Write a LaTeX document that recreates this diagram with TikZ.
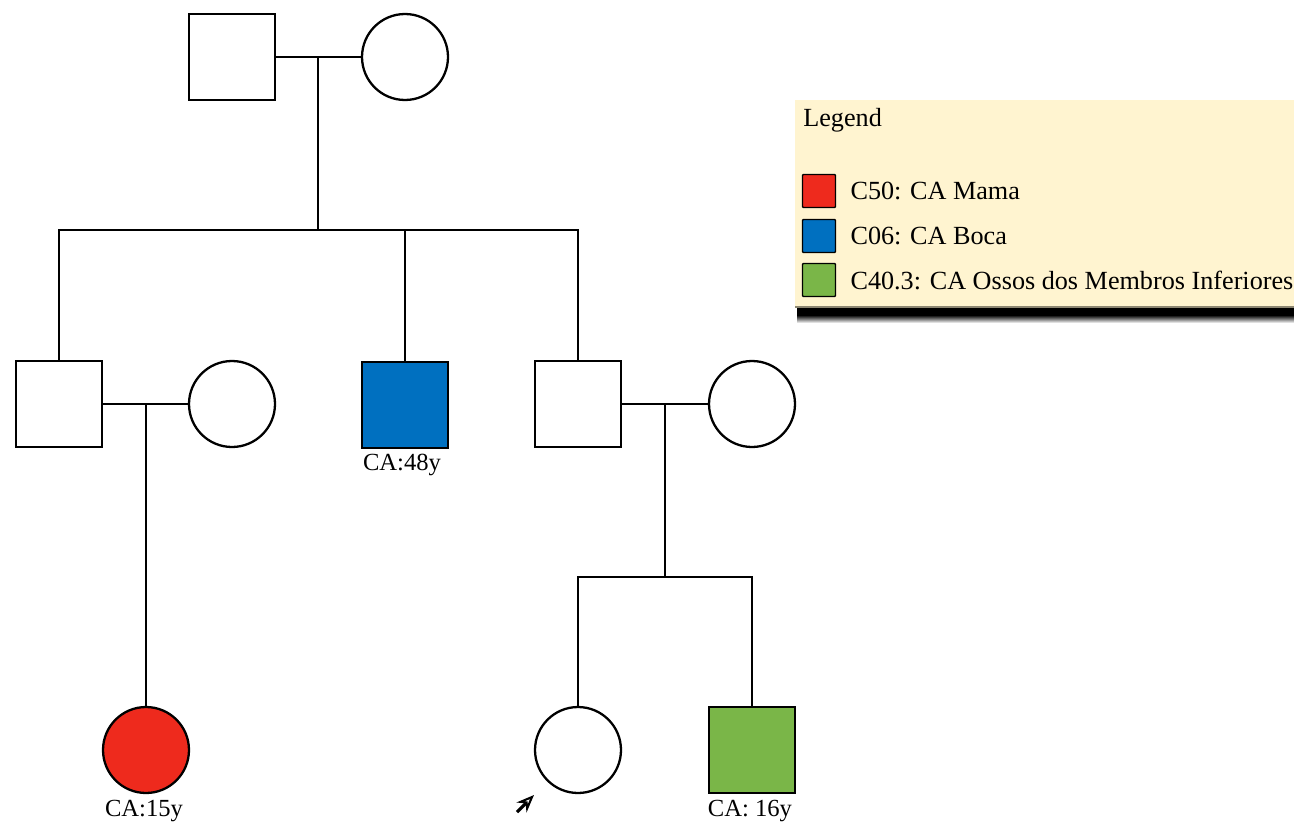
\documentclass[tikz,border=0pt]{standalone}
\usepackage{fontspec}
\setmainfont{Liberation Serif}
\usetikzlibrary{positioning, arrows.meta}

\definecolor{camama}{HTML}{EE2A1D}
\definecolor{caboca}{HTML}{0070C0}
\definecolor{caossos}{HTML}{7AB648}
\definecolor{legendbg}{HTML}{FFF4D0}

\tikzset{
  male/.style={draw=black, line width=1.3pt, fill=white, rectangle, minimum size=1.72cm, inner sep=0pt},
  female/.style={draw=black, line width=1.3pt, fill=white, circle, minimum size=1.72cm, inner sep=0pt},
  link/.style={black, line width=1.3pt},
  agelabel/.style={font=\fontsize{14}{16}\selectfont, anchor=north, inner sep=1pt},
  keybox/.style={draw=black, line width=0.8pt, rectangle, minimum size=0.66cm, inner sep=0pt, rounded corners=0.5pt},
  keytext/.style={font=\fontsize{14.9}{17}\selectfont, anchor=west, inner sep=0pt}
}

\begin{document}
\begin{tikzpicture}[x=0.02cm, y=-0.02cm]
\useasboundingbox (0,0) rectangle (1294,828);

% first generation
\node[male] (gf) at (232,57) {};
\node[female] (gm) at (405,57) {};

% second generation
\node[male] (s1) at (59,404) {};
\node[female] (w1) at (232,404) {};
\node[male, fill=caboca] (s2) at (405,405) {};
\node[male] (s3) at (578,404) {};
\node[female] (w3) at (752,404) {};

% third generation
\node[female, fill=camama] (d1) at (146,750) {};
\node[female] (d3) at (578,750) {};
\node[male, fill=caossos] (s4) at (752,750) {};

\node[agelabel] (l2) at (402,452) {CA:48y};
\node[agelabel] (l1) at (144,798) {CA:15y};
\node[agelabel] (l4) at (750,798) {CA: 16y};

% marriages and sibships
\coordinate (u1) at (318,57);
\coordinate (sib1) at (318,230);
\draw[link] (gf.east) -- (gm.west);
\draw[link] (u1) -- (sib1);
\draw[link] (s1.north) |- (sib1) -| (s3.north);
\draw[link] (sib1 -| s2) -- (s2.north);

\coordinate (u2) at (146,404);
\draw[link] (s1.east) -- (w1.west);
\draw[link] (u2) -- (d1.north);

\coordinate (u3) at (665,404);
\coordinate (sib3) at (665,577);
\draw[link] (s3.east) -- (w3.west);
\draw[link] (u3) -- (sib3);
\draw[link] (d3.north) |- (sib3) -| (s4.north);

% proband
\coordinate (pa) at (517,812);
\coordinate (pb) at (534,795);
\draw[line width=1.8pt, -{Stealth[length=10pt, width=8pt, open, line width=1.2pt]}] (pa) -- (pb);

% legend
\fill[black] (797,306) rectangle (1294,315);
\shade[top color=black, bottom color=white] (797,315) rectangle (1294,323);
\fill[legendbg] (795,100) rectangle (1294,307);
\draw[black!45!legendbg, line width=1pt] (795,307) -- (1294,307);
\node[keytext] (legendtitle) at (803,120) {Legend};
\node[keybox, fill=camama] (k1) at (819,191) {};
\node[keybox, fill=caboca] (k2) at (819,236) {};
\node[keybox, fill=caossos] (k3) at (819,280) {};
\node[keytext, right=0.28cm of k1] (t1) {C50: CA Mama};
\node[keytext, right=0.28cm of k2] (t2) {C06: CA Boca};
\node[keytext, right=0.28cm of k3] (t3) {C40.3: CA Ossos dos Membros Inferiores};
\end{tikzpicture}
\end{document}
